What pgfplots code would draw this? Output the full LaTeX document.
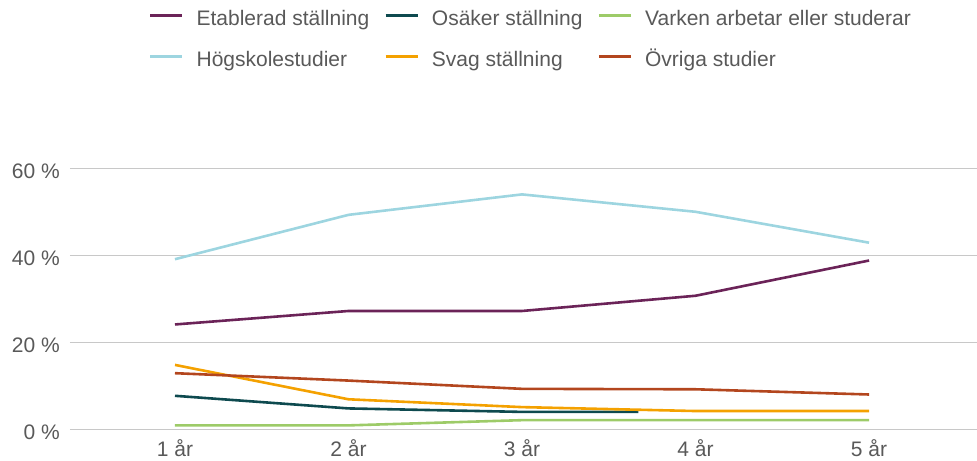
\documentclass[border=0pt]{standalone}
\usepackage{fontspec}
\setmainfont{Liberation Sans}
\usepackage{pgfplots}
\pgfplotsset{compat=1.18}
\definecolor{cEt}{HTML}{6B2358}
\definecolor{cOs}{HTML}{0E4A4F}
\definecolor{cVa}{HTML}{9DCB68}
\definecolor{cHo}{HTML}{9DD5E0}
\definecolor{cSv}{HTML}{F4A100}
\definecolor{cOv}{HTML}{B3461E}
\definecolor{gridc}{HTML}{C8C8C8}
\definecolor{labc}{HTML}{595959}
\begin{document}
\fontsize{21bp}{25bp}\selectfont
\begin{tikzpicture}
\useasboundingbox (-70bp,-31.7bp) rectangle (907bp,429.3bp);
\begin{axis}[
  at={(0,0)}, anchor=south west,
  scale only axis, width=907bp, height=261bp,
  xmin=0.395, xmax=5.622, ymin=0, ymax=60,
  xtick={1,2,3,4,5}, xticklabels={1 år,2 år,3 år,4 år,5 år},
  ytick={0,20,40,60},
  yticklabel={\pgfmathprintnumber{\tick} \%},
  /pgf/number format/assume math mode=true,
  ymajorgrids, grid style={color=gridc, line width=1bp},
  axis line style={draw=none},
  major tick length=0pt,
  tick label style={font=\fontsize{21bp}{25bp}\selectfont, text=labc},
  xticklabel style={anchor=north, inner sep=0pt, text height=15bp, text depth=0pt, yshift=-12.4bp},
  yticklabel style={anchor=east, inner sep=0pt, text height=15bp, text depth=0pt, xshift=-10bp, yshift=-2.7bp},
  legend columns=3,
  legend cell align=left,
  legend style={draw=none, fill=none, at={(0.0871,1.6027)}, anchor=north west,
    inner sep=0pt, outer sep=0pt, font=\fontsize{21bp}{25bp}\selectfont, text=labc,
    row sep=22bp,
    nodes={inner sep=0pt, text height=15bp, text depth=4bp},
    /tikz/every odd column/.append style={column sep=13bp},
    /tikz/every even column/.append style={column sep=15bp}},
  legend image code/.code={\draw[#1, line width=2.6bp] (0bp,5bp) -- (32bp,5bp);},
  every axis plot/.append style={line width=2.6bp, line join=round},
]
\addplot[color=cEt] coordinates {(1,24.1)(2,27.2)(3,27.2)(4,30.7)(5,38.8)};
\addlegendentry{Etablerad ställning}
\addplot[color=cOs] coordinates {(1,7.7)(2,4.8)(3,4.0)(3.67,4.0)};
\addlegendentry{Osäker ställning}
\addplot[color=cVa] coordinates {(1,0.9)(2,0.9)(3,2.1)(4,2.1)(5,2.1)};
\addlegendentry{Varken arbetar eller studerar}
\addplot[color=cHo] coordinates {(1,39.1)(2,49.3)(3,54.0)(4,50.0)(5,42.9)};
\addlegendentry{Högskolestudier}
\addplot[color=cSv] coordinates {(1,14.8)(2,6.9)(3,5.1)(4,4.2)(5,4.2)};
\addlegendentry{Svag ställning}
\addplot[color=cOv] coordinates {(1,12.9)(2,11.2)(3,9.3)(4,9.2)(5,8.0)};
\addlegendentry{Övriga studier}
\end{axis}
\end{tikzpicture}
\end{document}
